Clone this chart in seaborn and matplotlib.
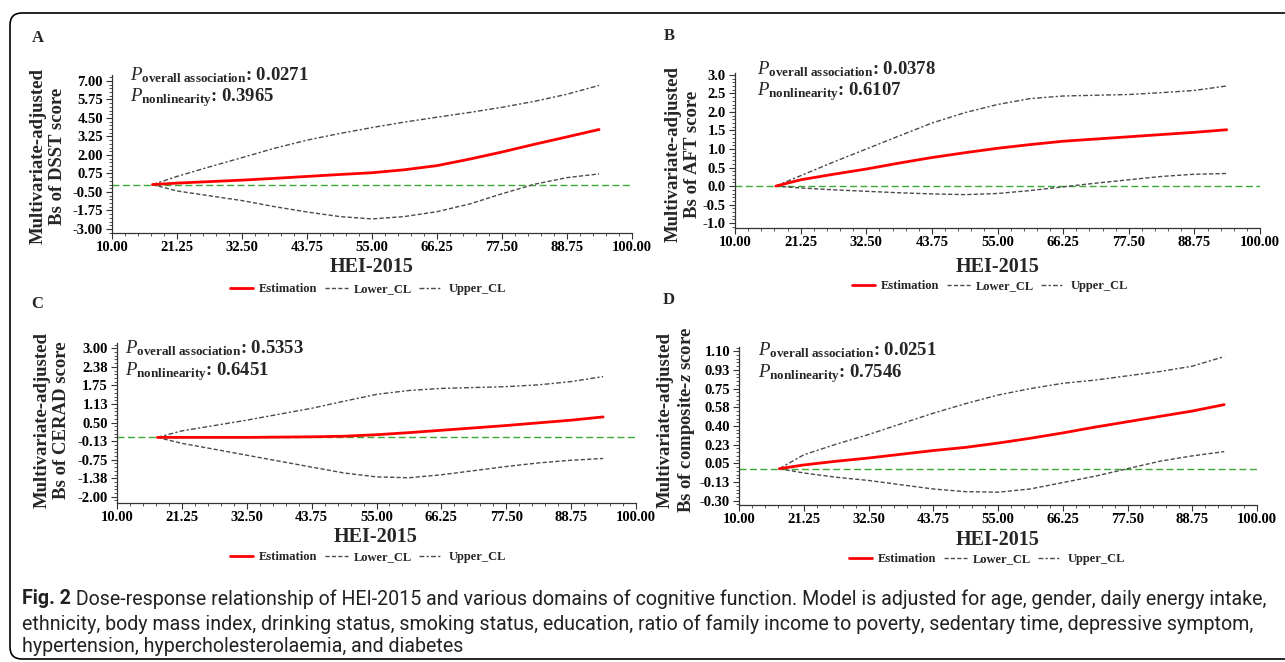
import matplotlib
matplotlib.use("Agg")
import numpy as np
import pandas as pd
import matplotlib.pyplot as plt
import seaborn as sns
from matplotlib.patches import FancyBboxPatch
from matplotlib.lines import Line2D
from matplotlib.ticker import FixedLocator, AutoMinorLocator
from matplotlib.transforms import IdentityTransform
from matplotlib import font_manager

# ---------------- data ----------------
hei = [17, 21.25, 26.9, 32.5, 38.1, 43.75, 49.4, 55, 60.6, 66.25, 71.9, 77.5, 83.1, 88.75, 94.3]

a_est = [0, 0.10, 0.20, 0.30, 0.42, 0.55, 0.68, 0.80, 1.00, 1.28, 1.72, 2.20, 2.72, 3.22, 3.72]
a_low = [0, -0.43, -0.76, -1.08, -1.49, -1.85, -2.16, -2.32, -2.16, -1.83, -1.31, -0.62, 0.02, 0.47, 0.72]
a_up = [0, 0.55, 1.20, 1.82, 2.45, 3.00, 3.45, 3.85, 4.22, 4.55, 4.87, 5.22, 5.62, 6.10, 6.70]

b_est = [0, 0.17, 0.32, 0.46, 0.62, 0.77, 0.90, 1.02, 1.12, 1.21, 1.27, 1.33, 1.39, 1.45, 1.52]
b_low = [0, -0.05, -0.10, -0.14, -0.18, -0.21, -0.23, -0.20, -0.12, -0.02, 0.08, 0.17, 0.26, 0.32, 0.34]
b_up = [0, 0.28, 0.65, 1.00, 1.35, 1.70, 1.98, 2.20, 2.36, 2.43, 2.45, 2.47, 2.52, 2.58, 2.70]

c_est = [0, 0, 0, 0, 0.01, 0.02, 0.04, 0.09, 0.16, 0.24, 0.32, 0.40, 0.49, 0.58, 0.69]
c_low = [0, -0.20, -0.40, -0.60, -0.80, -1.00, -1.20, -1.33, -1.36, -1.26, -1.12, -0.98, -0.86, -0.77, -0.71]
c_up = [0, 0.22, 0.40, 0.58, 0.78, 0.98, 1.22, 1.45, 1.58, 1.65, 1.68, 1.71, 1.77, 1.88, 2.05]

d_est = [0, 0.035, 0.07, 0.10, 0.135, 0.17, 0.20, 0.24, 0.285, 0.335, 0.39, 0.44, 0.49, 0.54, 0.60]
d_low = [0, -0.04, -0.08, -0.11, -0.15, -0.19, -0.215, -0.22, -0.19, -0.13, -0.07, 0.0, 0.07, 0.12, 0.16]
d_up = [0, 0.13, 0.23, 0.32, 0.42, 0.52, 0.61, 0.69, 0.75, 0.80, 0.83, 0.87, 0.91, 0.96, 1.05]

x_ticks = [10, 21.25, 32.5, 43.75, 55, 66.25, 77.5, 88.75, 100]
x_ticklabels = ["10.00", "21.25", "32.50", "43.75", "55.00", "66.25", "77.50", "88.75", "100.00"]

a_yticks = [7, 5.75, 4.5, 3.25, 2, 0.75, -0.5, -1.75, -3]
a_yticklabels = ["7.00", "5.75", "4.50", "3.25", "2.00", "0.75", "-0.50", "-1.75", "-3.00"]
b_yticks = [3, 2.5, 2, 1.5, 1, 0.5, 0, -0.5, -1]
b_yticklabels = ["3.0", "2.5", "2.0", "1.5", "1.0", "0.5", "0.0", "-0.5", "-1.0"]
c_yticks = [3, 2.375, 1.75, 1.125, 0.5, -0.125, -0.75, -1.375, -2]
c_yticklabels = ["3.00", "2.38", "1.75", "1.13", "0.50", "-0.13", "-0.75", "-1.38", "-2.00"]
d_yticks = [1.1, 0.925, 0.75, 0.575, 0.4, 0.225, 0.05, -0.125, -0.3]
d_yticklabels = ["1.10", "0.93", "0.75", "0.58", "0.40", "0.23", "0.05", "-0.13", "-0.30"]

p_overall = ["0.0271", "0.0378", "0.5353", "0.0251"]
p_nonlin = ["0.3965", "0.6107", "0.6451", "0.7546"]
outcomes = ["DSST", "AFT", "CERAD", r"composite-$\mathbfit{z}$"]
panel_letters = ["A", "B", "C", "D"]
legend_labels = ["Estimation", "Lower_CL", "Upper_CL"]
x_label = "HEI-2015"

caption_bold = "Fig. 2"
caption_lines = [
    " Dose-response relationship of HEI-2015 and various domains of cognitive function. Model is adjusted for age, gender, daily energy intake,",
    "ethnicity, body mass index, drinking status, smoking status, education, ratio of family income to poverty, sedentary time, depressive symptom,",
    "hypertension, hypercholesterolaemia, and diabetes",
]

# ---------------- style ----------------
sns.set_theme(style="ticks")
plt.rcParams["font.family"] = ["Liberation Serif", "DejaVu Serif"]
plt.rcParams["mathtext.fontset"] = "custom"
plt.rcParams["mathtext.rm"] = "Liberation Serif"
plt.rcParams["mathtext.it"] = "Liberation Serif:italic"
plt.rcParams["mathtext.bf"] = "Liberation Serif:bold"
plt.rcParams["mathtext.bfit"] = "Liberation Serif:bold:italic"

W, H = 1285, 662
fig = plt.figure(figsize=(W / 100, H / 100), dpi=100)
fig.patch.set_facecolor("white")


def fx(x):
    return x / W


def fy(y):
    return 1 - y / H


RED = "#ff0000"
GREY = "#4a4a4a"
GREEN = "#3aaa35"
LOW_LS = (0, (3, 1.6))
UP_LS = (0, (3.5, 1.6, 1.6, 1.6))

layout = [
    dict(rect=(112, 75, 632, 233), ylim=(-3.27, 7.4), ylab=(48, 156), xlab=(372, 267),
         leg=(368, 289), ptxt=(130, 80.7, 101.7), letter=(38, 38)),
    dict(rect=(735, 73, 1260, 228), ylim=(-1.13, 3.05), ylab=(683, 154), xlab=(998, 267),
         leg=(990, 286), ptxt=(757, 74, 95), letter=(669, 36)),
    dict(rect=(117, 343, 636, 503), ylim=(-2.21, 3.18), ylab=(52, 420), xlab=(376, 537),
         leg=(368, 557), ptxt=(125, 353, 375), letter=(37, 304)),
    dict(rect=(739, 347, 1257, 505), ylim=(-0.34, 1.14), ylab=(677, 420), xlab=(998, 540),
         leg=(987, 559), ptxt=(758, 355, 377), letter=(669, 300)),
]

series = [
    (a_est, a_low, a_up, a_yticks, a_yticklabels),
    (b_est, b_low, b_up, b_yticks, b_yticklabels),
    (c_est, c_low, c_up, c_yticks, c_yticklabels),
    (d_est, d_low, d_up, d_yticks, d_yticklabels),
]

for i, (lay, (est, low, up, yt, ytl)) in enumerate(zip(layout, series)):
    l, t, r, b = lay["rect"]
    ax = fig.add_axes([fx(l), fy(b), (r - l) / W, (b - t) / H])
    ax.set_facecolor("white")
    df = pd.DataFrame({"HEI": hei, "est": est, "low": low, "up": up})
    ax.axhline(0, color=GREEN, lw=1.0, linestyle=(0, (5, 2.5)), zorder=1)
    sns.lineplot(data=df, x="HEI", y="low", ax=ax, color=GREY, lw=1.0, linestyle=LOW_LS, zorder=2)
    sns.lineplot(data=df, x="HEI", y="up", ax=ax, color=GREY, lw=1.0, linestyle=UP_LS, zorder=2)
    sns.lineplot(data=df, x="HEI", y="est", ax=ax, color=RED, lw=2.0, zorder=3)
    ax.set_xlim(10, 100)
    ax.set_ylim(*lay["ylim"])
    ax.xaxis.set_major_locator(FixedLocator(x_ticks))
    ax.set_xticklabels(x_ticklabels)
    ax.yaxis.set_major_locator(FixedLocator(yt))
    ax.set_yticklabels(ytl)
    ax.xaxis.set_minor_locator(AutoMinorLocator(5))
    ax.yaxis.set_minor_locator(AutoMinorLocator(5))
    ax.tick_params(axis="both", which="major", direction="out", length=4, width=0.8,
                   color="#333333", labelsize=10.5, pad=1.5)
    ax.tick_params(axis="y", which="major", pad=2.5)
    ax.tick_params(axis="both", which="minor", direction="out", length=2.5, width=0.6, color="#333333")
    for lab in ax.get_xticklabels() + ax.get_yticklabels():
        lab.set_fontweight("bold")
        lab.set_color("black")
    for s in ["top", "right"]:
        ax.spines[s].set_visible(False)
    for s in ["left", "bottom"]:
        ax.spines[s].set_linewidth(0.9)
        ax.spines[s].set_color("#333333")
    ax.set_xlabel("")
    ax.set_ylabel("")

    fig.text(fx(lay["ylab"][0]), fy(lay["ylab"][1]),
             "Multivariate-adjusted\nBs of " + outcomes[i] + " score",
             rotation=90, ha="center", va="center", multialignment="center",
             fontsize=13.5, fontweight="bold", linespacing=1.15)
    fig.text(fx(lay["xlab"][0]), fy(lay["xlab"][1]), x_label, ha="center", va="center",
             fontsize=14.5, fontweight="bold")
    px0, b1, b2 = lay["ptxt"]
    fig.text(fx(px0), fy(b1), r"$P_{\mathbf{overall\ association}}$" + ": " + p_overall[i],
             fontsize=13.5, fontweight="bold", va="baseline", ha="left")
    fig.text(fx(px0), fy(b2), r"$P_{\mathbf{nonlinearity}}$" + ": " + p_nonlin[i],
             fontsize=13.5, fontweight="bold", va="baseline", ha="left")
    fig.text(fx(lay["letter"][0]), fy(lay["letter"][1]), panel_letters[i], ha="center", va="center",
             fontsize=12, fontweight="bold")
    handles = [Line2D([], [], color=RED, lw=2.0),
               Line2D([], [], color=GREY, lw=1.0, linestyle=LOW_LS),
               Line2D([], [], color=GREY, lw=1.0, linestyle=UP_LS)]
    fig.legend(handles, legend_labels, loc="center", bbox_to_anchor=(fx(lay["leg"][0]), fy(lay["leg"][1])),
               ncol=3, frameon=False, prop={"family": "Liberation Serif", "weight": "bold", "size": 9},
               handlelength=1.8, handletextpad=0.5, columnspacing=0.6, borderpad=0, borderaxespad=0)

# ---------------- caption ----------------
available = {f.name for f in font_manager.fontManager.ttflist}
cap_font = [f for f in ["Liberation Sans Narrow", "DejaVu Sans Condensed", "Roboto", "Open Sans"]
            if f in available] or ["DejaVu Sans"]
cap_color = "#222222"
renderer = fig.canvas.get_renderer()
target_w = 1265 - 22
size = 12.0
for _ in range(3):
    tb = fig.text(0, 0, caption_bold, fontsize=size, fontweight="bold", family=cap_font)
    tl = fig.text(0, 0, caption_lines[0], fontsize=size, family=cap_font)
    w = tb.get_window_extent(renderer).width + tl.get_window_extent(renderer).width
    tb.remove()
    tl.remove()
    size = size * target_w / w

ys = [599, 624, 647]
tb = fig.text(fx(22), fy(ys[0]), caption_bold, fontsize=size, fontweight="bold", family=cap_font,
              va="center", ha="left", color=cap_color)
bw = tb.get_window_extent(renderer).width
fig.text(fx(22 + bw), fy(ys[0]), caption_lines[0], fontsize=size, family=cap_font,
         va="center", ha="left", color=cap_color)
for k in (1, 2):
    fig.text(fx(22), fy(ys[k]), caption_lines[k], fontsize=size, family=cap_font,
             va="center", ha="left", color=cap_color)

# ---------------- border ----------------
box = FancyBboxPatch((10, 3), 1300, 646, boxstyle="round,pad=0,rounding_size=12",
                     transform=IdentityTransform(), fill=False, lw=1.2, ec="black")
fig.add_artist(box)

fig.savefig("out.png", dpi=100, facecolor="white")
